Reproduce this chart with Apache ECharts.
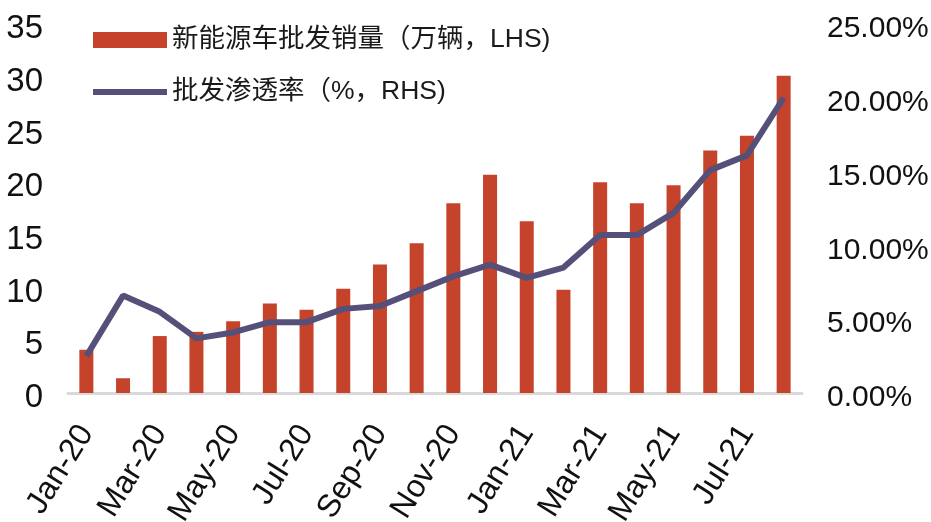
<!DOCTYPE html>
<html>
<head>
<meta charset="utf-8">
<script src="https://cdn.jsdelivr.net/npm/echarts@6/dist/echarts.min.js"></script>
<style>
  html, body { margin: 0; padding: 0; background: #fff; }
  #chart { width: 931px; height: 522px; }
</style>
</head>
<body>
<div id="chart"></div>
<script>
// 月份
var months = ['Jan-20', 'Feb-20', 'Mar-20', 'Apr-20', 'May-20', 'Jun-20', 'Jul-20', 'Aug-20', 'Sep-20', 'Oct-20',
    'Nov-20', 'Dec-20', 'Jan-21', 'Feb-21', 'Mar-21', 'Apr-21', 'May-21', 'Jun-21', 'Jul-21', 'Aug-21'];
// 新能源车批发销量（万辆）
var sales = [4.1, 1.4, 5.4, 5.8, 6.8, 8.5, 7.9, 9.9, 12.2, 14.2,
    18.0, 20.7, 16.3, 9.8, 20.0, 18.0, 19.7, 23.0, 24.4, 30.1];
// 批发渗透率（%）
var rate = [2.5, 6.6, 5.5, 3.7, 4.1, 4.8, 4.8, 5.7, 5.9, 6.9,
    7.9, 8.7, 7.8, 8.5, 10.7, 10.7, 12.2, 15.1, 16.1, 20.0];

var legendName = ['新能源车批发销量（万辆，LHS)', '批发渗透率（%，RHS)'];

var barColor = '#c4432a';
var lineColor = '#55507a';
var axisFont = 'Liberation Sans, Arial, sans-serif';

var option = {
    animation: false,
    grid: { left: 68, right: 129, top: 24, bottom: 129, outerBoundsMode: 'none', containLabel: false },
    legend: {
        orient: 'vertical',
        left: 93,
        top: 25,
        padding: 0,
        itemWidth: 74,
        itemHeight: 16,
        itemGap: 22,
        textStyle: {
            fontFamily: 'Liberation Sans, Noto Sans CJK SC, sans-serif',
            fontSize: 26.5,
            lineHeight: 30,
            color: '#1a1a1a'
        },
        data: [
            { name: legendName[0], icon: 'rect' },
            { name: legendName[1], icon: 'path://M0,0L74,0L74,6L0,6Z', itemStyle: { color: lineColor } }
        ]
    },
    xAxis: {
        type: 'category',
        data: months,
        axisLine: { lineStyle: { color: '#d9d9d9', width: 3 } },
        axisTick: { inside: true, length: 9, interval: 1, lineStyle: { color: '#d9d9d9', width: 2 } },
        axisLabel: {
            interval: 1,
            rotate: 58,
            margin: 35,
            fontFamily: axisFont,
            fontSize: 32,
            color: '#111'
        },
        splitLine: { show: false }
    },
    yAxis: [{
        type: 'value',
        min: 0,
        max: 35,
        interval: 5,
        axisLine: { show: false },
        axisTick: { show: false },
        splitLine: { show: false },
        axisLabel: {
            margin: 25,
            fontFamily: axisFont,
            fontSize: 33,
            color: '#111',
            verticalAlign: 'top',
            lineHeight: 10
        }
    }, {
        type: 'value',
        min: 0,
        max: 25,
        interval: 5,
        axisLine: { show: false },
        axisTick: { show: false },
        splitLine: { show: false },
        axisLabel: {
            margin: 25,
            fontFamily: axisFont,
            fontSize: 30,
            color: '#111',
            verticalAlign: 'top',
            lineHeight: 10,
            formatter: function (v) { return v.toFixed(2) + '%'; }
        }
    }],
    series: [{
        name: legendName[0],
        type: 'bar',
        data: sales,
        barWidth: 14,
        itemStyle: { color: barColor }
    }, {
        name: legendName[1],
        type: 'line',
        yAxisIndex: 1,
        data: rate,
        symbol: 'none',
        showSymbol: false,
        lineStyle: { color: lineColor, width: 6 },
        itemStyle: { color: lineColor }
    }]
};

echarts.init(document.getElementById('chart')).setOption(option);
</script>
</body>
</html>
